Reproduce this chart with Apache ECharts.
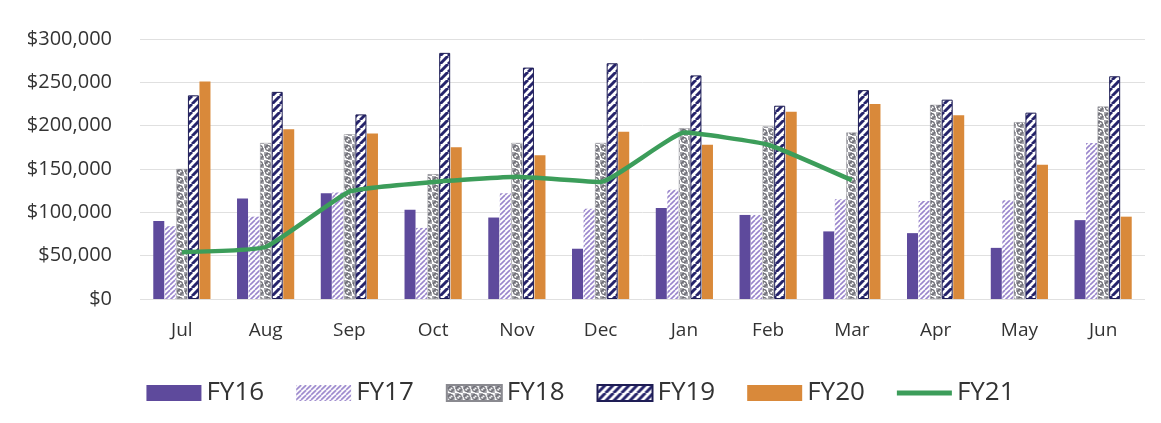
<!DOCTYPE html>
<html>
<head>
<meta charset="utf-8">
<script src="https://cdn.jsdelivr.net/npm/echarts@6/dist/echarts.min.js"></script>
<style>
  html, body { margin: 0; padding: 0; background: #fff; }
  #main { width: 1161px; height: 423px; }
</style>
</head>
<body>
<div id="main"></div>
<script>
// monthly values
const months = ['Jul', 'Aug', 'Sep', 'Oct', 'Nov', 'Dec', 'Jan', 'Feb', 'Mar', 'Apr', 'May', 'Jun']
const fy16 = [90000, 116000, 122000, 103000, 94000, 58000, 105000, 97000, 78000, 76000, 59000, 91000]
const fy17 = [84000, 95000, 123000, 82000, 122000, 104000, 126000, 97000, 115000, 113000, 114000, 180000]
const fy18 = [150000, 180000, 190000, 144000, 180000, 180000, 197000, 199000, 192000, 224000, 204000, 222000]
const fy19 = [235000, 239000, 213000, 284000, 267000, 272000, 258000, 223000, 241000, 230000, 215000, 257000]
const fy20 = [251000, 196000, 191000, 175000, 166000, 193000, 178000, 216000, 225000, 212000, 155000, 95000]
const fy21 = [54000, 60000, 124000, 135000, 141000, 135000, 192000, 178000, 137000, null, null, null]

// little canvases used as fill patterns
function stripes (fg, size, lw) {
  let c = document.createElement('canvas')
  c.width = size; c.height = size
  let ctx = c.getContext('2d')
  ctx.fillStyle = '#fff'
  ctx.fillRect(0, 0, size, size)
  ctx.strokeStyle = fg
  ctx.lineWidth = lw
  for (let k = -1; k <= 1; k++) {
    ctx.beginPath()
    ctx.moveTo(k * size, size)
    ctx.lineTo(k * size + size, 0)
    ctx.stroke()
  }
  return c
}
function bubbles () {
  let c = document.createElement('canvas')
  c.width = 8; c.height = 8
  let ctx = c.getContext('2d')
  ctx.fillStyle = '#fff'
  ctx.fillRect(0, 0, 8, 8)
  ctx.fillStyle = '#a4a4aa'
  ctx.fillRect(0, 0, 4, 4)
  ctx.fillRect(4, 4, 4, 4)
  ctx.strokeStyle = '#66666e'
  ctx.lineWidth = 1.1
  ctx.beginPath(); ctx.arc(4, 4, 2.4, 0, Math.PI * 2); ctx.stroke()
  return c
}

const pat17 = { image: stripes('#9a86cc', 5, 1.6), repeat: 'repeat' }
const pat18 = { image: bubbles(), repeat: 'repeat' }
const pat19 = { image: stripes('#26246b', 8, 3), repeat: 'repeat' }

const font = '"Open Sans", Lato, sans-serif'
let chart = echarts.init(document.getElementById('main'))
let barBase = { type: 'bar', barWidth: 11, barGap: '5%' }

let option = {
  backgroundColor: '#fff',
  animation: false,
  grid: { left: 140, right: 16, top: 39, height: 260 },
  legend: {
    top: 373,
    left: 'center',
    icon: 'rect',
    itemWidth: 55,
    itemHeight: 16,
    itemGap: 32,
    textStyle: { fontFamily: font, fontSize: 26, lineHeight: 30, color: '#333' },
    data: ['FY16', 'FY17', 'FY18', 'FY19', 'FY20',
      { name: 'FY21', icon: 'path://M0,0 L55,0 L55,5 L0,5 Z' }]
  },
  xAxis: {
    type: 'category',
    data: months,
    axisLine: { show: false },
    axisTick: { show: false },
    axisLabel: { fontFamily: font, fontSize: 19, color: '#333', margin: 22 }
  },
  yAxis: {
    type: 'value',
    min: 0,
    max: 300000,
    interval: 50000,
    axisLabel: {
      fontFamily: font, fontSize: 20, color: '#333', margin: 28,
      formatter: v => '$' + v.toLocaleString('en-US')
    },
    splitLine: { lineStyle: { color: '#e0e0e0' } }
  },
  series: [
    Object.assign({ name: 'FY16', data: fy16, itemStyle: { color: '#5e4a9c' } }, barBase),
    Object.assign({ name: 'FY17', data: fy17, itemStyle: { color: pat17 } }, barBase),
    Object.assign({ name: 'FY18', data: fy18, itemStyle: { color: pat18, borderColor: '#8a8a90', borderWidth: 0.5 } }, barBase),
    Object.assign({ name: 'FY19', data: fy19, itemStyle: { color: pat19, borderColor: '#1e1d55', borderWidth: 1 } }, barBase),
    Object.assign({ name: 'FY20', data: fy20, itemStyle: { color: '#d9893a' } }, barBase),
    {
      name: 'FY21',
      type: 'line',
      data: fy21,
      smooth: 0.12,
      symbol: 'none',
      z: 5,
      lineStyle: { color: '#3c9d5a', width: 4.5 },
      itemStyle: { color: '#3c9d5a' }
    }
  ]
}
chart.setOption(option)
</script>
</body>
</html>
